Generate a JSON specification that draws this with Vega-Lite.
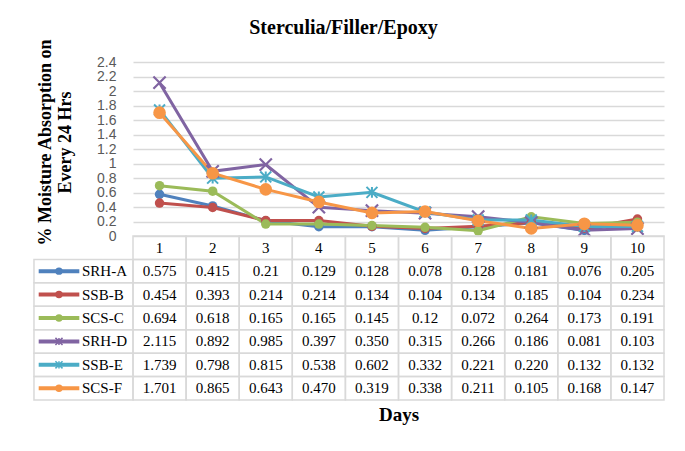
{
  "$schema": "https://vega.github.io/schema/vega-lite/v6.json",
  "width": 531,
  "height": 338,
  "padding": {"left": 33, "top": 18, "right": 22, "bottom": 20},
  "background": "white",
  "config": {"view": {"stroke": null}, "font": "Liberation Serif"},
  "title": {"text": "Sterculia/Filler/Epoxy", "font": "Liberation Serif", "fontSize": 20, "fontWeight": "bold", "color": "black", "offset": 0, "dx": -55},
  "datasets": {
    "m": [
      {"s": "SRH-A", "d": 1, "v": 0.575, "t": "0.575"}, {"s": "SRH-A", "d": 2, "v": 0.415, "t": "0.415"}, {"s": "SRH-A", "d": 3, "v": 0.21, "t": "0.21"}, {"s": "SRH-A", "d": 4, "v": 0.129, "t": "0.129"}, {"s": "SRH-A", "d": 5, "v": 0.128, "t": "0.128"}, {"s": "SRH-A", "d": 6, "v": 0.078, "t": "0.078"}, {"s": "SRH-A", "d": 7, "v": 0.128, "t": "0.128"}, {"s": "SRH-A", "d": 8, "v": 0.181, "t": "0.181"}, {"s": "SRH-A", "d": 9, "v": 0.076, "t": "0.076"}, {"s": "SRH-A", "d": 10, "v": 0.205, "t": "0.205"},
      {"s": "SSB-B", "d": 1, "v": 0.454, "t": "0.454"}, {"s": "SSB-B", "d": 2, "v": 0.393, "t": "0.393"}, {"s": "SSB-B", "d": 3, "v": 0.214, "t": "0.214"}, {"s": "SSB-B", "d": 4, "v": 0.214, "t": "0.214"}, {"s": "SSB-B", "d": 5, "v": 0.134, "t": "0.134"}, {"s": "SSB-B", "d": 6, "v": 0.104, "t": "0.104"}, {"s": "SSB-B", "d": 7, "v": 0.134, "t": "0.134"}, {"s": "SSB-B", "d": 8, "v": 0.185, "t": "0.185"}, {"s": "SSB-B", "d": 9, "v": 0.104, "t": "0.104"}, {"s": "SSB-B", "d": 10, "v": 0.234, "t": "0.234"},
      {"s": "SCS-C", "d": 1, "v": 0.694, "t": "0.694"}, {"s": "SCS-C", "d": 2, "v": 0.618, "t": "0.618"}, {"s": "SCS-C", "d": 3, "v": 0.165, "t": "0.165"}, {"s": "SCS-C", "d": 4, "v": 0.165, "t": "0.165"}, {"s": "SCS-C", "d": 5, "v": 0.145, "t": "0.145"}, {"s": "SCS-C", "d": 6, "v": 0.12, "t": "0.12"}, {"s": "SCS-C", "d": 7, "v": 0.072, "t": "0.072"}, {"s": "SCS-C", "d": 8, "v": 0.264, "t": "0.264"}, {"s": "SCS-C", "d": 9, "v": 0.173, "t": "0.173"}, {"s": "SCS-C", "d": 10, "v": 0.191, "t": "0.191"},
      {"s": "SRH-D", "d": 1, "v": 2.115, "t": "2.115"}, {"s": "SRH-D", "d": 2, "v": 0.892, "t": "0.892"}, {"s": "SRH-D", "d": 3, "v": 0.985, "t": "0.985"}, {"s": "SRH-D", "d": 4, "v": 0.397, "t": "0.397"}, {"s": "SRH-D", "d": 5, "v": 0.35, "t": "0.350"}, {"s": "SRH-D", "d": 6, "v": 0.315, "t": "0.315"}, {"s": "SRH-D", "d": 7, "v": 0.266, "t": "0.266"}, {"s": "SRH-D", "d": 8, "v": 0.186, "t": "0.186"}, {"s": "SRH-D", "d": 9, "v": 0.081, "t": "0.081"}, {"s": "SRH-D", "d": 10, "v": 0.103, "t": "0.103"},
      {"s": "SSB-E", "d": 1, "v": 1.739, "t": "1.739"}, {"s": "SSB-E", "d": 2, "v": 0.798, "t": "0.798"}, {"s": "SSB-E", "d": 3, "v": 0.815, "t": "0.815"}, {"s": "SSB-E", "d": 4, "v": 0.538, "t": "0.538"}, {"s": "SSB-E", "d": 5, "v": 0.602, "t": "0.602"}, {"s": "SSB-E", "d": 6, "v": 0.332, "t": "0.332"}, {"s": "SSB-E", "d": 7, "v": 0.221, "t": "0.221"}, {"s": "SSB-E", "d": 8, "v": 0.22, "t": "0.220"}, {"s": "SSB-E", "d": 9, "v": 0.132, "t": "0.132"}, {"s": "SSB-E", "d": 10, "v": 0.132, "t": "0.132"},
      {"s": "SCS-F", "d": 1, "v": 1.701, "t": "1.701"}, {"s": "SCS-F", "d": 2, "v": 0.865, "t": "0.865"}, {"s": "SCS-F", "d": 3, "v": 0.643, "t": "0.643"}, {"s": "SCS-F", "d": 4, "v": 0.47, "t": "0.470"}, {"s": "SCS-F", "d": 5, "v": 0.319, "t": "0.319"}, {"s": "SCS-F", "d": 6, "v": 0.338, "t": "0.338"}, {"s": "SCS-F", "d": 7, "v": 0.211, "t": "0.211"}, {"s": "SCS-F", "d": 8, "v": 0.105, "t": "0.105"}, {"s": "SCS-F", "d": 9, "v": 0.168, "t": "0.168"}, {"s": "SCS-F", "d": 10, "v": 0.147, "t": "0.147"}
    ]
  },
  "data": {"name": "m"},
  "resolve": {"scale": {"x": "independent", "y": "independent"}},
  "layer": [
    {
      "mark": {"type": "line", "strokeWidth": 3},
      "encoding": {
        "x": {"field": "d", "type": "ordinal", "scale": {"type": "point", "padding": 0.5, "domain": [1, 2, 3, 4, 5, 6, 7, 8, 9, 10]},
          "axis": {"title": "Days", "labels": false, "ticks": false, "domain": false, "grid": false, "titleFont": "Liberation Serif", "titleFontSize": 19, "titleFontWeight": "bold", "titleColor": "black", "titlePadding": 5}},
        "y": {"field": "v", "type": "quantitative", "scale": {"domain": [-2.262, 2.4], "nice": false, "zero": false},
          "axis": {"values": [0, 0.2, 0.4, 0.6, 0.8, 1, 1.2, 1.4, 1.6, 1.8, 2, 2.2, 2.4], "labelExpr": "'' + datum.value", "grid": true, "gridColor": "#D9D9D9", "gridWidth": 1.3, "ticks": false, "domain": false, "labelFont": "Liberation Sans", "labelFontSize": 14, "labelColor": "#595959", "labelPadding": 17, "title": ["% Moisture Absorption on", "Every 24 Hrs"], "titleFont": "Liberation Serif", "titleFontSize": 18, "titleFontWeight": "bold", "titleColor": "black", "titleY": 80, "titlePadding": 22, "titleLineHeight": 20}},
        "color": {"field": "s", "type": "nominal", "scale": {"domain": ["SRH-A", "SSB-B", "SCS-C", "SRH-D", "SSB-E", "SCS-F"], "range": ["#4F81BD", "#C0504D", "#9BBB59", "#8064A2", "#4BACC6", "#F79646"]}, "legend": null}
      }
    },
    {
      "transform": [{"filter": "datum.s == 'SRH-A' || datum.s == 'SSB-B' || datum.s == 'SCS-C'"}],
      "mark": {"type": "point", "shape": "circle", "filled": true, "size": 90, "opacity": 1},
      "encoding": {
        "x": {"field": "d", "type": "ordinal", "scale": {"type": "point", "padding": 0.5, "domain": [1, 2, 3, 4, 5, 6, 7, 8, 9, 10]}, "axis": null},
        "y": {"field": "v", "type": "quantitative", "scale": {"domain": [-2.262, 2.4], "nice": false, "zero": false}, "axis": null},
        "color": {"field": "s", "type": "nominal", "legend": null}
      }
    },
    {
      "transform": [{"filter": "datum.s == 'SRH-D'"}],
      "mark": {"type": "point", "shape": "M-1,-1L1,1M-1,1L1,-1", "filled": false, "size": 150, "strokeWidth": 2.2, "opacity": 1},
      "encoding": {
        "x": {"field": "d", "type": "ordinal", "scale": {"type": "point", "padding": 0.5, "domain": [1, 2, 3, 4, 5, 6, 7, 8, 9, 10]}, "axis": null},
        "y": {"field": "v", "type": "quantitative", "scale": {"domain": [-2.262, 2.4], "nice": false, "zero": false}, "axis": null},
        "color": {"field": "s", "type": "nominal", "legend": null}
      }
    },
    {
      "transform": [{"filter": "datum.s == 'SSB-E'"}],
      "mark": {"type": "point", "shape": "M-1,-1L1,1M-1,1L1,-1M0,-1L0,1", "filled": false, "size": 120, "strokeWidth": 2, "opacity": 1},
      "encoding": {
        "x": {"field": "d", "type": "ordinal", "scale": {"type": "point", "padding": 0.5, "domain": [1, 2, 3, 4, 5, 6, 7, 8, 9, 10]}, "axis": null},
        "y": {"field": "v", "type": "quantitative", "scale": {"domain": [-2.262, 2.4], "nice": false, "zero": false}, "axis": null},
        "color": {"field": "s", "type": "nominal", "legend": null}
      }
    },
    {
      "transform": [{"filter": "datum.s == 'SCS-F'"}],
      "mark": {"type": "point", "shape": "circle", "filled": true, "size": 160, "opacity": 1},
      "encoding": {
        "x": {"field": "d", "type": "ordinal", "scale": {"type": "point", "padding": 0.5, "domain": [1, 2, 3, 4, 5, 6, 7, 8, 9, 10]}, "axis": null},
        "y": {"field": "v", "type": "quantitative", "scale": {"domain": [-2.262, 2.4], "nice": false, "zero": false}, "axis": null},
        "color": {"field": "s", "type": "nominal", "legend": null}
      }
    },
    {
      "mark": {"type": "rect", "fill": "transparent", "stroke": "#D9D9D9", "strokeWidth": 1.5},
      "encoding": {
        "x": {"field": "d", "type": "ordinal", "scale": {"type": "band", "paddingInner": 0, "paddingOuter": 0, "domain": [1, 2, 3, 4, 5, 6, 7, 8, 9, 10]}, "axis": null},
        "y": {"field": "s", "type": "nominal", "scale": {"type": "band", "domain": ["Day", "SRH-A", "SSB-B", "SCS-C", "SRH-D", "SSB-E", "SCS-F"], "paddingInner": 0, "paddingOuter": 0, "range": [174, 338]}, "axis": null}
      }
    },
    {
      "transform": [{"filter": "datum.s == 'SRH-A'"}],
      "mark": {"type": "rect", "fill": "transparent", "stroke": "#D9D9D9", "strokeWidth": 1.5},
      "encoding": {
        "x": {"field": "d", "type": "ordinal", "scale": {"type": "band", "paddingInner": 0, "paddingOuter": 0, "domain": [1, 2, 3, 4, 5, 6, 7, 8, 9, 10]}, "axis": null},
        "y": {"datum": "Day", "type": "nominal", "scale": {"type": "band", "domain": ["Day", "SRH-A", "SSB-B", "SCS-C", "SRH-D", "SSB-E", "SCS-F"], "paddingInner": 0, "paddingOuter": 0, "range": [174, 338]}, "axis": null}
      }
    },
    {
      "transform": [{"filter": "datum.s == 'SRH-A'"}],
      "mark": {"type": "text", "font": "Liberation Serif", "fontSize": 15, "color": "black", "baseline": "middle", "align": "center"},
      "encoding": {
        "x": {"field": "d", "type": "ordinal", "bandPosition": 0.5, "scale": {"type": "band", "paddingInner": 0, "paddingOuter": 0, "domain": [1, 2, 3, 4, 5, 6, 7, 8, 9, 10]}, "axis": null},
        "y": {"datum": "Day", "type": "nominal", "bandPosition": 0.5, "scale": {"type": "band", "domain": ["Day", "SRH-A", "SSB-B", "SCS-C", "SRH-D", "SSB-E", "SCS-F"], "paddingInner": 0, "paddingOuter": 0, "range": [174, 338]}, "axis": null},
        "text": {"field": "d", "type": "nominal"}
      }
    },
    {
      "mark": {"type": "text", "font": "Liberation Serif", "fontSize": 15, "color": "black", "baseline": "middle", "align": "center"},
      "encoding": {
        "x": {"field": "d", "type": "ordinal", "bandPosition": 0.5, "scale": {"type": "band", "paddingInner": 0, "paddingOuter": 0, "domain": [1, 2, 3, 4, 5, 6, 7, 8, 9, 10]}, "axis": null},
        "y": {"field": "s", "type": "nominal", "bandPosition": 0.5, "scale": {"type": "band", "domain": ["Day", "SRH-A", "SSB-B", "SCS-C", "SRH-D", "SSB-E", "SCS-F"], "paddingInner": 0, "paddingOuter": 0, "range": [174, 338]}, "axis": null},
        "text": {"field": "t", "type": "nominal"}
      }
    },
    {
      "transform": [{"filter": "datum.d == 1"}],
      "mark": {"type": "rect", "fill": "transparent", "stroke": "#D9D9D9", "strokeWidth": 1.5},
      "encoding": {
        "x": {"datum": -1.865, "type": "quantitative", "scale": {"domain": [0, 10], "nice": false, "zero": false}, "axis": null},
        "x2": {"datum": 0},
        "y": {"field": "s", "type": "nominal", "scale": {"type": "band", "domain": ["Day", "SRH-A", "SSB-B", "SCS-C", "SRH-D", "SSB-E", "SCS-F"], "paddingInner": 0, "paddingOuter": 0, "range": [174, 338]}, "axis": null}
      }
    },
    {
      "transform": [{"filter": "datum.d == 1"}],
      "mark": {"type": "rule", "strokeWidth": 4},
      "encoding": {
        "x": {"datum": -1.776, "type": "quantitative", "scale": {"domain": [0, 10], "nice": false, "zero": false}, "axis": null},
        "x2": {"datum": -1.011},
        "y": {"field": "s", "type": "nominal", "bandPosition": 0.5, "scale": {"type": "band", "domain": ["Day", "SRH-A", "SSB-B", "SCS-C", "SRH-D", "SSB-E", "SCS-F"], "paddingInner": 0, "paddingOuter": 0, "range": [174, 338]}, "axis": null},
        "color": {"field": "s", "type": "nominal", "legend": null}
      }
    },
    {
      "transform": [{"filter": "datum.d == 1 && (datum.s == 'SRH-A' || datum.s == 'SSB-B' || datum.s == 'SCS-C' || datum.s == 'SCS-F')"}],
      "mark": {"type": "point", "shape": "circle", "filled": true, "size": 55, "opacity": 1},
      "encoding": {
        "x": {"datum": -1.394, "type": "quantitative", "scale": {"domain": [0, 10], "nice": false, "zero": false}, "axis": null},
        "y": {"field": "s", "type": "nominal", "bandPosition": 0.5, "scale": {"type": "band", "domain": ["Day", "SRH-A", "SSB-B", "SCS-C", "SRH-D", "SSB-E", "SCS-F"], "paddingInner": 0, "paddingOuter": 0, "range": [174, 338]}, "axis": null},
        "color": {"field": "s", "type": "nominal", "legend": null}
      }
    },
    {
      "transform": [{"filter": "datum.d == 1 && (datum.s == 'SRH-D' || datum.s == 'SSB-E')"}],
      "mark": {"type": "point", "shape": "M-1,-1L1,1M-1,1L1,-1M0,-1L0,1", "filled": false, "size": 50, "strokeWidth": 1.5, "opacity": 1},
      "encoding": {
        "x": {"datum": -1.394, "type": "quantitative", "scale": {"domain": [0, 10], "nice": false, "zero": false}, "axis": null},
        "y": {"field": "s", "type": "nominal", "bandPosition": 0.5, "scale": {"type": "band", "domain": ["Day", "SRH-A", "SSB-B", "SCS-C", "SRH-D", "SSB-E", "SCS-F"], "paddingInner": 0, "paddingOuter": 0, "range": [174, 338]}, "axis": null},
        "color": {"field": "s", "type": "nominal", "legend": null}
      }
    },
    {
      "transform": [{"filter": "datum.d == 1"}],
      "mark": {"type": "text", "font": "Liberation Serif", "fontSize": 15, "color": "black", "baseline": "middle", "align": "left"},
      "encoding": {
        "x": {"datum": -0.96, "type": "quantitative", "scale": {"domain": [0, 10], "nice": false, "zero": false}, "axis": null},
        "y": {"field": "s", "type": "nominal", "bandPosition": 0.5, "scale": {"type": "band", "domain": ["Day", "SRH-A", "SSB-B", "SCS-C", "SRH-D", "SSB-E", "SCS-F"], "paddingInner": 0, "paddingOuter": 0, "range": [174, 338]}, "axis": null},
        "text": {"field": "s", "type": "nominal"}
      }
    }
  ]
}
